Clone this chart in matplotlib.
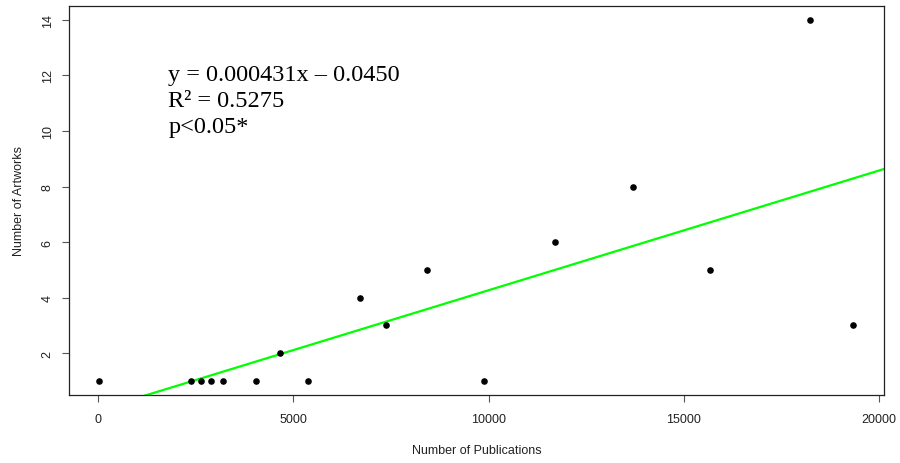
import numpy as np
import matplotlib.pyplot as plt

# Data
publications = [30, 2390, 2645, 2895, 3200, 4045, 5385, 4660, 6710, 7375,
                8425, 9890, 11700, 13700, 15670, 18230, 19330]
artworks = [1, 1, 1, 1, 1, 1, 1, 2, 4, 3, 5, 1, 6, 8, 5, 14, 3]
slope = 0.000431
intercept = -0.0450
fit_text = ["y = 0.000431x \u2013 0.0450", "R\u00b2 = 0.5275", "p<0.05*"]

plt.rcParams["font.family"] = ["Liberation Sans", "DejaVu Sans"]

fig = plt.figure(figsize=(9, 4.64), dpi=100)
ax = fig.add_axes([0.0767, 0.1466, 0.9053, 0.8384])

ax.scatter(publications, artworks, s=14, color="black", zorder=3)

x_line = np.array([-1000, 21000])
ax.plot(x_line, slope * x_line + intercept, color="#00ff00", lw=1.6, zorder=2)

ax.set_xlim(-742, 20123)
ax.set_ylim(0.495, 14.5)
ax.set_xticks([0, 5000, 10000, 15000, 20000])
ax.set_yticks([2, 4, 6, 8, 10, 12, 14])
ax.tick_params(axis="both", direction="out", length=5, width=0.8,
               color="#555555", labelsize=9, labelcolor="#222222")
ax.tick_params(axis="x", pad=8)
for lab in ax.get_yticklabels():
    lab.set_rotation(90)
    lab.set_va("center")
ax.tick_params(axis="y", pad=6)

for sp in ax.spines.values():
    sp.set_linewidth(0.9)
    sp.set_color("#222222")

ax.set_xlabel("Number of Publications", fontsize=9, color="#222222", labelpad=14)
ax.set_ylabel("Number of Artworks", fontsize=9, color="#222222", labelpad=12)

ax.text(0.122, 0.850, "\n".join(fit_text), transform=ax.transAxes,
        family=["Liberation Serif", "DejaVu Serif"], fontsize=17.5,
        va="top", ha="left", linespacing=1.3)

fig.savefig("out.png", dpi=100)
